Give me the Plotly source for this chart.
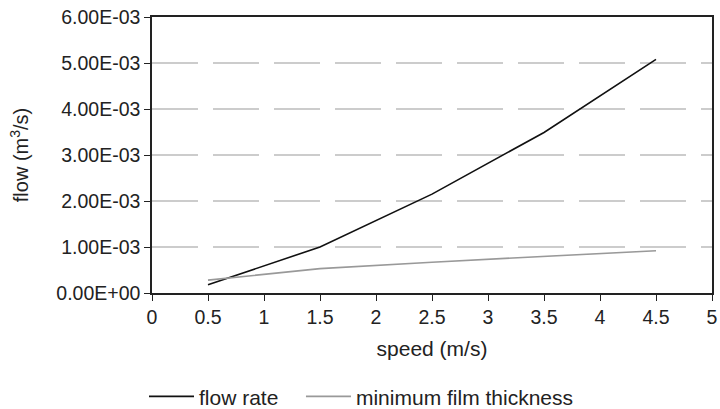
import plotly.graph_objects as go

speed = [0.5, 1.5, 2.5, 3.5, 4.5]
flow_rate = [0.18e-3, 1.0e-3, 2.15e-3, 3.49e-3, 5.08e-3]
min_film = [0.28e-3, 0.53e-3, 0.67e-3, 0.80e-3, 0.92e-3]

y_tick_vals = [0, 1e-3, 2e-3, 3e-3, 4e-3, 5e-3, 6e-3]
y_tick_text = ["0.00E+00", "1.00E-03", "2.00E-03", "3.00E-03", "4.00E-03", "5.00E-03", "6.00E-03"]
x_tick_vals = [0, 0.5, 1, 1.5, 2, 2.5, 3, 3.5, 4, 4.5, 5]
x_tick_text = ["0", "0.5", "1", "1.5", "2", "2.5", "3", "3.5", "4", "4.5", "5"]

FAM = "'Liberation Sans'"
font = dict(family=FAM, size=19.5, color="#222")

fig = go.Figure()
fig.add_trace(go.Scatter(x=speed, y=flow_rate, mode="lines", name="flow rate",
                         line=dict(color="#111111", width=1.6), legend="legend"))
fig.add_trace(go.Scatter(x=speed, y=min_film, mode="lines", name="minimum film thickness",
                         line=dict(color="#999999", width=1.6), legend="legend2"))

# dashed gridlines
for v in y_tick_vals[1:-1]:
    fig.add_shape(type="line", xref="paper", yref="y", x0=0, x1=1, y0=v, y1=v,
                  line=dict(color="#9a9a9a", width=1.2, dash="46px,15px"), layer="below")

leg_common = dict(orientation="h", xanchor="left", xref="container",
                  y=0.03, yanchor="middle", yref="container",
                  font=dict(family=FAM, size=21, color="#222"), itemwidth=45)

fig.update_layout(
    width=720, height=409,
    margin=dict(l=152, r=8, t=17, b=116, autoexpand=False),
    plot_bgcolor="white", paper_bgcolor="white",
    font=font,
    showlegend=True,
    legend=dict(x=0.2, **leg_common),
    legend2=dict(x=0.418, **leg_common),
    xaxis=dict(range=[0, 5], tickvals=x_tick_vals, ticktext=x_tick_text,
               showgrid=False, zeroline=False, showline=True, linecolor="#222", linewidth=1.5,
               mirror=True, ticks="outside", ticklen=6, tickcolor="#222",
               title=dict(text="speed (m/s)", standoff=14,
                          font=dict(family=FAM, size=21, color="#222"))),
    yaxis=dict(range=[0, 6e-3], tickvals=y_tick_vals, ticktext=y_tick_text,
               showgrid=False, zeroline=False, showline=True, linecolor="#222", linewidth=1.5,
               mirror=True, ticks="outside", ticklen=6, tickcolor="#222",
               title=dict(text="flow (m<sup>3</sup>/s)", standoff=22,
                          font=dict(family=FAM, size=20, color="#222"))),
)

fig.write_html("out.html")
